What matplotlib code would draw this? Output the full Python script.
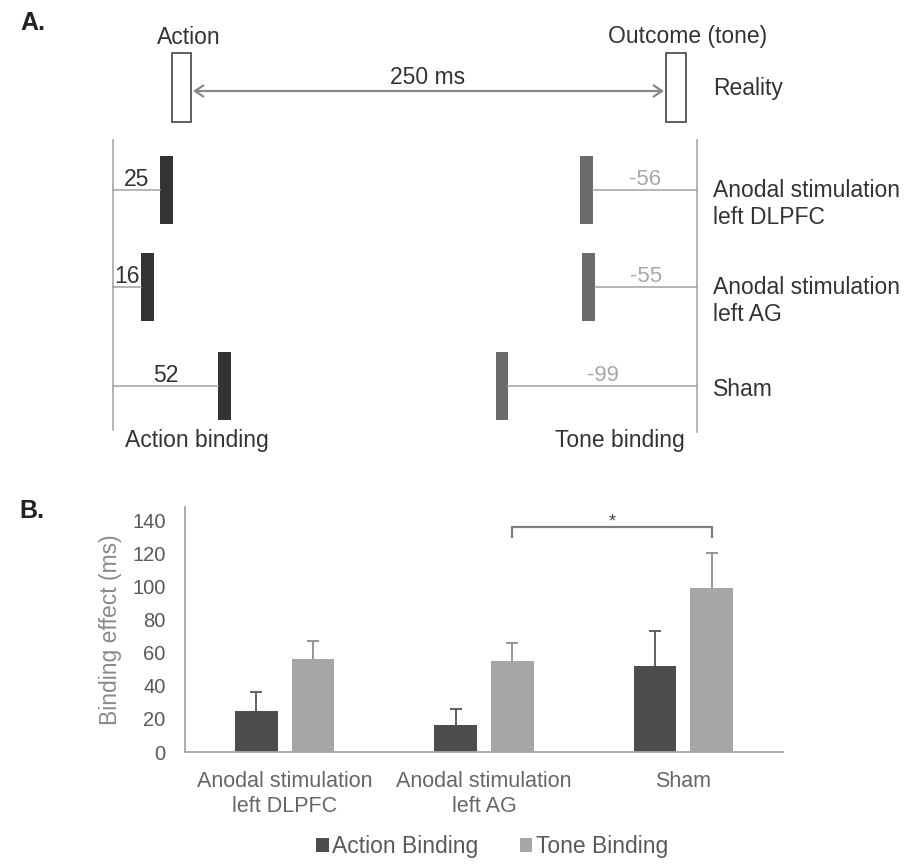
import matplotlib
matplotlib.use("Agg")
import matplotlib.pyplot as plt
from matplotlib.patches import Rectangle, FancyArrowPatch, Patch
import numpy as np

plt.rcParams['font.family'] = ['Liberation Sans', 'DejaVu Sans']

# ---------------- data ----------------
conditions_A = ["Anodal stimulation\nleft DLPFC", "Anodal stimulation\nleft AG", "Sham"]
action_binding = [25, 16, 52]          # ms (panel A labels)
tone_binding = [-56, -55, -99]         # ms (panel A labels)

categories_B = ["Anodal stimulation\nleft DLPFC", "Anodal stimulation\nleft AG", "Sham"]
action_vals = [25, 16, 52]
tone_vals = [56, 55, 99]
action_err = [11, 10, 21]
tone_err = [11, 11, 21]
yticks_B = [0, 20, 40, 60, 80, 100, 120, 140]
series_names = ["Action Binding", "Tone Binding"]

# ---------------- figure ----------------
W, H = 913, 864
fig = plt.figure(figsize=(W / 100, H / 100), dpi=100)
fig.patch.set_facecolor("white")

# layout axes in pixel coordinates
ax0 = fig.add_axes([0, 0, 1, 1])
ax0.set_xlim(0, W)
ax0.set_ylim(H, 0)
ax0.axis("off")

fsA = 16.5
dark = "#333333"
tone_col = "#6b6b6b"
line_col = "#a0a0a0"

ax0.text(20, 23, "A.", fontsize=18, fontweight="bold", va="center", ha="left", color="#222222")
ax0.text(19, 511, "B.", fontsize=18, fontweight="bold", va="center", ha="left", color="#222222")

# reality boxes
ax0.add_patch(Rectangle((172, 53), 19, 69, facecolor="white", edgecolor="#444444", lw=1.2))
ax0.add_patch(Rectangle((666, 53), 20, 69, facecolor="white", edgecolor="#444444", lw=1.2))
ax0.text(189, 37, "Action", fontsize=fsA, ha="center", va="center", color="#333333")
ax0.text(688, 37, "Outcome (tone)", fontsize=fsA, ha="center", va="center", color="#333333")
ax0.add_patch(FancyArrowPatch((193, 91), (664, 91), arrowstyle="<->,head_length=6,head_width=4",
                              color="#888888", lw=1.6, shrinkA=0, shrinkB=0))
ax0.text(428, 77, "250 ms", fontsize=fsA, ha="center", va="center", color="#333333")
ax0.text(713, 89, "Reality", fontsize=fsA, ha="left", va="center", color="#333333")

# reference vertical lines
ax0.plot([113, 113], [140, 430], color=line_col, lw=1.1)
ax0.plot([697, 697], [140, 432], color=line_col, lw=1.1)

rows_y = [190, 287, 386]
for lab, y in zip(conditions_A, rows_y):
    n = lab.count("\n")
    ax0.text(713, y + (14 if n else 4), lab, fontsize=fsA, ha="left", va="center",
             color="#333333", linespacing=1.25)

ax0.text(197, 440, "Action binding", fontsize=fsA, ha="center", va="center", color="#333333")
ax0.text(620, 440, "Tone binding", fontsize=fsA, ha="center", va="center", color="#333333")

# action side axes: x in ms, 0 at the left reference line
k_act = 2.15
ax_act = fig.add_axes([0, 0, 1, 1])
ax_act.set_xlim(-113 / k_act, (W - 113) / k_act)
ax_act.set_ylim(H, 0)
ax_act.axis("off")
ax_act.patch.set_alpha(0)

# tone side axes: x in ms, 0 at the right reference line
k_tone = 1.97
ax_tone = fig.add_axes([0, 0, 1, 1])
ax_tone.set_xlim(-697 / k_tone, (W - 697) / k_tone)
ax_tone.set_ylim(H, 0)
ax_tone.axis("off")
ax_tone.patch.set_alpha(0)

bw_act = 13 / k_act
bw_tone = 12.5 / k_tone
bh = 68
for v, y in zip(action_binding, rows_y):
    ax_act.barh(y, bw_act, left=v - bw_act / 2, height=bh, color=dark, edgecolor="none")
    ax_act.plot([0, v - bw_act / 2], [y, y], color=line_col, lw=1.1)
    ax_act.text((v - bw_act / 2) / 2, y - 4, str(v), fontsize=fsA, ha="center", va="baseline", color="#333333")
for v, y in zip(tone_binding, rows_y):
    ax_tone.barh(y, bw_tone, left=v - bw_tone / 2, height=bh, color=tone_col, edgecolor="none")
    ax_tone.plot([v + bw_tone / 2, 0], [y, y], color=line_col, lw=1.1)
    ax_tone.text((v + bw_tone / 2) / 2, y - 5, str(v), fontsize=fsA - 0.5, ha="center", va="baseline", color="#a8a8a8")

# ---------------- panel B ----------------
ylo, yhi = 0, 148
px_per = 1.657
top_px = 752 - yhi * px_per
axB = fig.add_axes([185 / W, (H - 752) / H, (783 - 185) / W, (752 - top_px) / H])
axB.set_facecolor("none")
x = np.arange(len(categories_B))
bw = 0.215
off = 0.142
c_act = "#4d4d4d"
c_tone = "#a6a6a6"
axB.bar(x - off, action_vals, bw, color=c_act, zorder=2)
axB.bar(x + off, tone_vals, bw, color=c_tone, zorder=2)

# plus-only error bars (stem + cap at the top)
for xs, vals, errs, ec in [(x - off, action_vals, action_err, "#555555"),
                           (x + off, tone_vals, tone_err, "#8c8c8c")]:
    tops = np.array(vals) + np.array(errs)
    axB.vlines(xs, vals, tops, color=ec, lw=1.3, zorder=3)
    axB.plot(xs, tops, linestyle="none", marker="_", markersize=9, markeredgewidth=1.3,
             color=ec, zorder=3)

axB.set_xlim(-0.5, 2.5)
axB.set_ylim(ylo, yhi)
axB.set_yticks(yticks_B)
axB.set_yticklabels([str(t) for t in yticks_B], fontsize=14.5, color="#595959")
axB.set_xticks(x)
axB.set_xticklabels(categories_B, fontsize=15.5, color="#666666", linespacing=1.2)
axB.tick_params(axis="y", length=0, pad=14)
axB.tick_params(axis="x", length=0, pad=14)
for s in ["top", "right"]:
    axB.spines[s].set_visible(False)
for s in ["left", "bottom"]:
    axB.spines[s].set_color("#a6a6a6")
    axB.spines[s].set_linewidth(1.3)
axB.set_ylabel("Binding effect (ms)", fontsize=16.5, color="#8a8a8a", labelpad=7)

# significance bracket between tone bars of AG and Sham
x1, x2 = x[1] + off, x[2] + off
yb, yt = 129.5, 135.5
axB.plot([x1, x1, x2, x2], [yb, yt, yt, yb], color="#7f7f7f", lw=1.6, clip_on=False)
axB.text((x1 + x2) / 2, 139, "*", fontsize=13, ha="center", va="center", color="#444444")

handles = [Patch(facecolor=c_act), Patch(facecolor=c_tone)]
fig.legend(handles, series_names, loc="center", bbox_to_anchor=(492 / W, 1 - 847 / H), ncol=2,
           frameon=False, fontsize=16.5, handlelength=0.55, handleheight=0.55, handletextpad=0.15,
           columnspacing=1.8, labelcolor="#595959")

fig.savefig("out.png", dpi=100, facecolor="white")
